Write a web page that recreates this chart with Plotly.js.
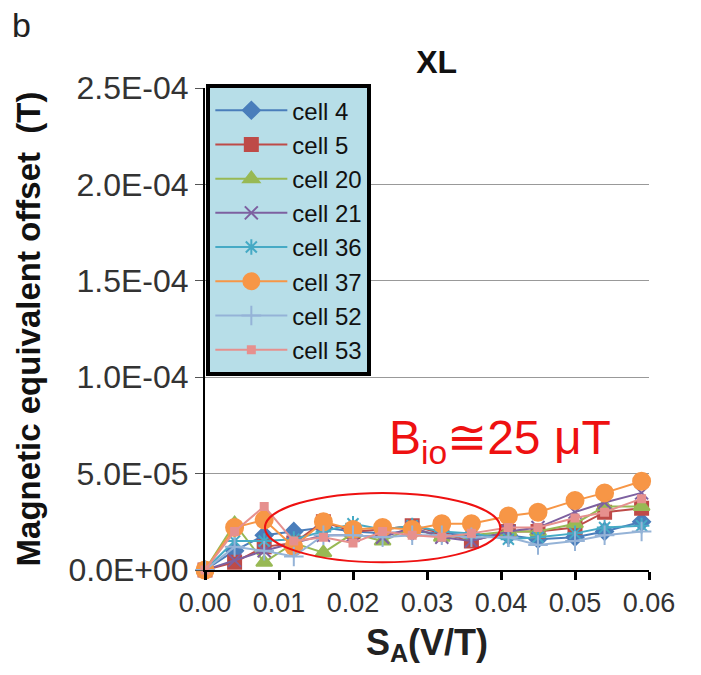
<!DOCTYPE html>
<html>
<head>
<meta charset="utf-8">
<script src="https://cdn.plot.ly/plotly-3.0.1.min.js"></script>
<style>body{margin:0;background:#fff}#chart{width:701px;height:675px}</style>
</head>
<body>
<div id="chart"></div>
<script>
const sa = [0, 0.004, 0.008, 0.012, 0.016, 0.020, 0.024, 0.028, 0.032, 0.036, 0.041, 0.045, 0.050, 0.054, 0.059];
const cell4  = [0, 1.0e-5, 1.8e-5, 2.0e-5, 2.2e-5, 2.0e-5, 1.9e-5, 2.0e-5, 1.9e-5, 1.8e-5, 1.8e-5, 1.6e-5, 1.7e-5, 2.0e-5, 2.5e-5];
const cell5  = [0, 0.4e-5, 1.2e-5, 1.4e-5, 2.5e-5, 2.0e-5, 2.1e-5, 2.3e-5, 1.9e-5, 1.5e-5, 2.0e-5, 2.0e-5, 2.2e-5, 3.0e-5, 3.2e-5];
const cell20 = [0, 2.4e-5, 0.4e-5, 1.4e-5, 0.9e-5, 1.9e-5, 1.5e-5, 2.2e-5, 1.7e-5, 1.8e-5, 2.0e-5, 2.0e-5, 2.4e-5, 3.3e-5, 3.3e-5];
const cell21 = [0, 0.5e-5, 1.0e-5, 1.4e-5, 1.8e-5, 1.8e-5, 1.7e-5, 2.2e-5, 1.7e-5, 1.5e-5, 2.0e-5, 2.2e-5, 3.0e-5, 3.5e-5, 4.0e-5];
const cell36 = [0, 1.5e-5, 1.5e-5, 1.6e-5, 2.0e-5, 2.4e-5, 2.1e-5, 2.3e-5, 2.0e-5, 1.9e-5, 1.6e-5, 1.7e-5, 1.9e-5, 2.2e-5, 2.3e-5];
const cell37 = [0, 2.2e-5, 2.6e-5, 1.2e-5, 2.5e-5, 2.1e-5, 2.2e-5, 2.1e-5, 2.4e-5, 2.4e-5, 2.8e-5, 3.0e-5, 3.6e-5, 4.0e-5, 4.6e-5];
const cell52 = [0, 1.2e-5, 1.0e-5, 0.7e-5, 1.8e-5, 1.8e-5, 1.7e-5, 1.8e-5, 1.8e-5, 1.7e-5, 1.7e-5, 1.3e-5, 1.5e-5, 1.8e-5, 2.0e-5];
const cell53 = [0, 2.0e-5, 3.3e-5, 1.5e-5, 1.7e-5, 1.4e-5, 2.0e-5, 1.8e-5, 1.7e-5, 1.9e-5, 2.2e-5, 2.2e-5, 2.7e-5, 3.0e-5, 3.7e-5];
const seriesNames = ["cell 4", "cell 5", "cell 20", "cell 21", "cell 36", "cell 37", "cell 52", "cell 53"];
const yTickVals = [0, 5e-5, 1e-4, 1.5e-4, 2e-4, 2.5e-4];
const yTickText = ["0.0E+00", "5.0E-05", "1.0E-04", "1.5E-04", "2.0E-04", "2.5E-04"];
const xTickVals = [0, 0.01, 0.02, 0.03, 0.04, 0.05, 0.06];

const seriesData = [cell4, cell5, cell20, cell21, cell36, cell37, cell52, cell53];
const styles = [
  {color: "#4a7ebb", symbol: "diamond", size: 13},
  {color: "#be4b48", symbol: "square", size: 13},
  {color: "#98b954", symbol: "triangle-up", size: 14},
  {color: "#7d60a0", symbol: "x-thin-open", size: 13},
  {color: "#46aac5", symbol: "asterisk-open", size: 13},
  {color: "#f79646", symbol: "circle", size: 17},
  {color: "#95b3d7", symbol: "cross-thin-open", size: 14},
  {color: "#e6908e", symbol: "square", size: 7}
];

const traces = seriesData.map((ys, i) => ({
  x: sa, y: ys, name: seriesNames[i], type: "scatter", mode: "lines+markers",
  legendgroup: "g" + i,
  cliponaxis: false,
  line: {color: styles[i].color, width: 2},
  marker: {color: styles[i].color, symbol: styles[i].symbol, size: styles[i].size,
           line: {color: styles[i].color, width: 2}}
}));

const layout = {
  width: 701, height: 675,
  margin: {l: 205, r: 52, t: 88, b: 105},
  paper_bgcolor: "#fff", plot_bgcolor: "#fff",
  font: {family: "Liberation Sans, Arial, sans-serif", color: "#222"},
  showlegend: true,
  title: {text: "<b>XL</b>", x: 0.623, xanchor: "center", y: 0.908, yanchor: "middle", font: {size: 32, color: "#111"}},
  xaxis: {
    range: [0, 0.06], tickvals: xTickVals, tickformat: ".2f",
    showline: true, linecolor: "#000", linewidth: 2,
    ticks: "outside", ticklen: 8, tickwidth: 3, tickcolor: "#000",
    showgrid: false, zeroline: false,
    tickfont: {size: 27, color: "#333"},
    title: {text: "<b>S<sub>A</sub>(V/T)</b>", font: {size: 36, color: "#222"}, standoff: 12}
  },
  yaxis: {
    range: [0, 2.5e-4], tickvals: yTickVals, ticktext: yTickText,
    showline: true, linecolor: "#000", linewidth: 2,
    ticks: "outside", ticklen: 8, tickwidth: 1, tickcolor: "#555",
    showgrid: true, gridcolor: "#999", gridwidth: 1, zeroline: false,
    tickfont: {size: 32, color: "#333"},
    title: {text: "<b>Magnetic equivalent offset  (T)</b>", font: {size: 33, color: "#111"}, standoff: 18}
  },
  legend: {
    x: 0.003, y: 1.008, xanchor: "left", yanchor: "top",
    bgcolor: "#b7dee8", bordercolor: "#000", borderwidth: 4,
    font: {size: 24, color: "#111"}, tracegroupgap: 0,
    itemwidth: 72
  },
  shapes: [{
    type: "circle", xref: "x", yref: "y",
    x0: 0.0081, x1: 0.0399, y0: 0.4e-5, y1: 4.0e-5,
    line: {color: "#ee1111", width: 2}
  }],
  annotations: [
    {text: "B<sub>io</sub>≅25 μT", xref: "paper", yref: "paper", x: 0.664, y: 0.268,
     xanchor: "center", yanchor: "middle", showarrow: false,
     font: {size: 48, color: "#ee1111"}},
    {text: "b", xref: "paper", yref: "paper", x: -0.44, y: 1.13, xanchor: "left", yanchor: "middle",
     showarrow: false, font: {size: 34, color: "#222"}}
  ]
};

Plotly.newPlot("chart", traces, layout, {displayModeBar: false, staticPlot: true});
</script>
</body>
</html>
